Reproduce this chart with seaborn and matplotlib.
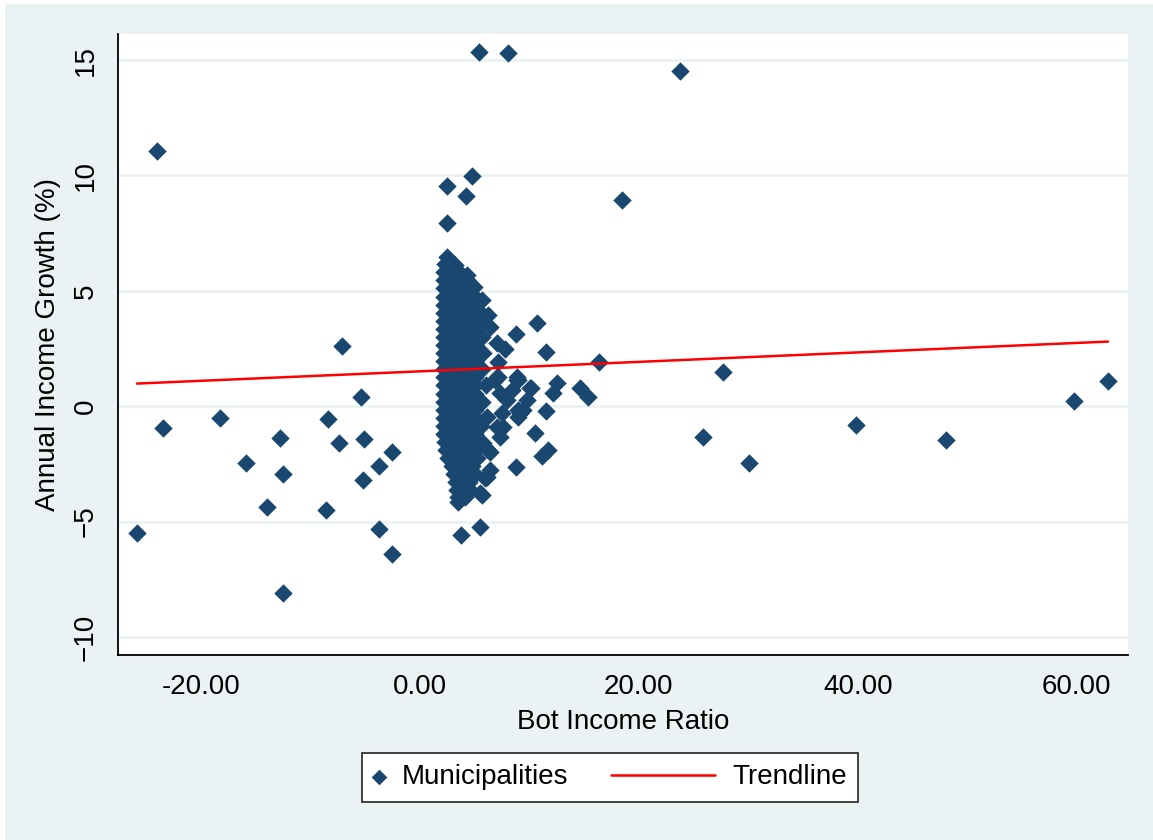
import matplotlib
matplotlib.use("Agg")
import matplotlib.pyplot as plt
import seaborn as sb
from matplotlib.ticker import FormatStrFormatter
from matplotlib.legend_handler import HandlerLine2D
from matplotlib.patches import Rectangle

# scattered municipalities (bot income ratio, annual income growth %)
out_x = [-25.85, -24.0, -23.5, -18.26, -15.9, -13.97, -12.78, -12.5, -12.5,
         -8.58, -8.4, -7.4, -7.14, -5.38, -5.1, -5.2, -3.74, -3.74, -2.55, -2.55,
         5.4, 8.05, 23.76, 18.46, 4.73, 2.45, 4.21, 2.45,
         62.86, 59.76, 48.06, 39.84, 30.07, 27.66, 25.84, 16.36, 15.36, 14.63,
         12.52, 12.16, 11.49, 10.67, 8.78, 10.12, 9.76, 11.49, 10.5, 11.7, 11.13, 8.78,
         7.0, 7.77, 7.1, 6.86, 8.84, 7.3, 7.93, 9.0, 6.1, 7.0, 7.6, 7.3, 5.8, 6.2,
         6.4, 5.95, 5.64, 3.5, 3.8, 5.5, 6.2, 6.4, 5.64, 4.94, 4.28, 3.2, 2.45,
         8.4, 9.4, 8.96, 8.84, 7.0, 7.1, 9.0, 10.06, 9.15, 7.47, 6.4, 6.1, 5.5]
out_y = [-5.49, 11.06, -0.94, -0.5, -2.46, -4.35, -1.38, -2.92, -8.09,
         -4.5, -0.55, -1.58, 2.61, 0.41, -1.42, -3.2, -2.59, -5.32, -1.97, -6.4,
         15.35, 15.3, 14.52, 8.94, 9.97, 9.54, 9.11, 7.92,
         1.09, 0.23, -1.46, -0.81, -2.45, 1.49, -1.32, 1.93, 0.41, 0.79,
         1.0, 0.57, 2.36, 3.6, 3.13, 0.79, 0.27, -0.19, -1.16, -1.9, -2.16, -2.62,
         2.72, 2.48, 1.93, 1.13, 1.13, 0.56, 0.27, -0.16, -0.45, -0.89, -0.89, -1.32, -1.6, -1.9,
         -2.76, -3.1, -3.85, -4.14, -5.58, -5.22, 3.95, 3.44, 4.6, 5.18, 5.69, 6.12, 6.48,
         0.7, -0.16, -0.45, 1.28, 1.28, 1.28, 1.13, 0.78, -0.3, -0.3, -1.97, -3.05, -3.77]

# the dense block of municipalities around ratio 2-5, one row per growth level
block_rows = [
    (6.15, [2.3]),
    (5.8, [2.2, 2.9, 3.6]),
    (5.45, [2.2, 2.9, 3.6, 4.3]),
    (5.1, [2.2, 2.9, 3.6, 4.3]),
    (4.75, [2.2, 2.9, 3.6, 4.3, 5.0]),
    (4.4, [2.2, 2.9, 3.6, 4.3, 5.0]),
    (4.05, [2.2, 2.9, 3.6, 4.3, 5.0, 5.6]),
    (3.7, [2.2, 2.9, 3.6, 4.3, 5.0, 5.6]),
    (3.35, [2.2, 2.9, 3.6, 4.3, 5.0]),
    (3.0, [2.2, 2.9, 3.6, 4.3, 5.0, 5.7]),
    (2.65, [2.2, 2.9, 3.6, 4.3, 5.0]),
    (2.3, [2.2, 2.9, 3.6, 4.3, 5.0, 5.8]),
    (1.95, [2.2, 2.9, 3.6, 4.3, 5.0]),
    (1.6, [2.2, 2.9, 3.6, 4.3, 5.0, 5.7]),
    (1.25, [2.2, 2.9, 3.6, 4.3, 5.0]),
    (0.9, [2.2, 2.9, 3.6, 4.3, 5.0, 6.0]),
    (0.55, [2.2, 2.9, 3.6, 4.3, 5.0]),
    (0.2, [2.2, 2.9, 3.6, 4.3, 5.0, 5.7]),
    (-0.15, [2.2, 2.9, 3.6, 4.3, 5.0]),
    (-0.5, [2.2, 2.9, 3.6, 4.3, 5.0]),
    (-0.85, [2.2, 2.9, 3.6, 4.3, 5.0, 5.6]),
    (-1.2, [2.2, 2.9, 3.6, 4.3, 5.0]),
    (-1.55, [2.3, 2.9, 3.6, 4.3, 4.9]),
    (-1.9, [2.4, 3.0, 3.7, 4.4, 5.1]),
    (-2.25, [2.6, 3.2, 3.9, 4.6, 5.2]),
    (-2.6, [2.9, 3.5, 4.2, 4.8]),
    (-2.95, [3.1, 3.7, 4.4, 5.0]),
    (-3.3, [3.3, 3.9, 4.5]),
    (-3.65, [3.4, 4.0, 4.6]),
    (-3.95, [3.5, 4.1]),
]

trend_x = [-25.85, 62.86]
trend_y = [0.98, 2.80]

xticks = [-20, 0, 20, 40, 60]
yticks = [-10, -5, 0, 5, 10, 15]

bg = '#EAF2F3'
navy = '#1A476F'

blk_x = []
blk_y = []
for yv, xs in block_rows:
    for xv in xs:
        blk_x.append(xv)
        blk_y.append(yv)

all_x = out_x + blk_x
all_y = out_y + blk_y

sb.set_style("white")
plt.rcParams['font.family'] = ['Liberation Sans', 'DejaVu Sans']
plt.rcParams['text.color'] = 'black'
plt.rcParams['axes.labelcolor'] = 'black'

fig = plt.figure(figsize=(11.53, 8.40), dpi=100, facecolor='white')
fig.patches.append(Rectangle((5 / 1153, 0), 1, 836 / 840, transform=fig.transFigure,
                             facecolor=bg, edgecolor='none', zorder=-1))
ax = fig.add_axes([118 / 1153, 1 - 655 / 840, (1127.7 - 118) / 1153, (655 - 33.7) / 840])
ax.set_facecolor('white')

sb.scatterplot(x=all_x, y=all_y, marker='D', color=navy, s=88, linewidth=0, ax=ax, zorder=3)
sb.lineplot(x=trend_x, y=trend_y, color='#FF0000', linewidth=1.8, ax=ax, zorder=4)

ax.set_xlim(-27.58, 64.66)
ax.set_ylim(-10.78, 16.14)
ax.set_xticks(xticks)
ax.set_yticks(yticks)
ax.xaxis.set_major_formatter(FormatStrFormatter('%.2f'))

ax.set_axisbelow(True)
ax.yaxis.grid(True, color=bg, linewidth=2)
ax.xaxis.grid(False)

for s in ['top', 'right']:
    ax.spines[s].set_visible(False)
for s in ['left', 'bottom']:
    ax.spines[s].set_color('black')
    ax.spines[s].set_linewidth(1.3)

ax.tick_params(axis='both', direction='out', length=8, width=1.4, color='#333333',
               labelsize=20, labelcolor='black', pad=6)
ax.tick_params(axis='y', labelrotation=90)
for lbl in ax.get_yticklabels():
    lbl.set_va('center')

ax.set_xlabel('Bot Income Ratio', fontsize=20, labelpad=6, color='black')
ax.set_ylabel('Annual Income Growth (%)', fontsize=20, labelpad=8, color='black')

sc = ax.collections[0]
ln = ax.lines[0]
leg = fig.legend([sc, ln], ['Municipalities', 'Trendline'],
                 loc='center', bbox_to_anchor=(610 / 1153, 1 - 777.5 / 840),
                 ncol=2, fontsize=20, frameon=True, fancybox=False,
                 handlelength=0.43, handletextpad=0.61, columnspacing=4.86,
                 borderpad=0.4, markerscale=0.85,
                 handler_map={ln: HandlerLine2D(xpad=-3.31)})
leg.get_frame().set_edgecolor('#333333')
leg.get_frame().set_linewidth(1.3)
leg.get_frame().set_facecolor('white')
leg.get_frame().set_alpha(1)
for t in leg.get_texts():
    t.set_color('black')

fig.savefig('out.png', dpi=100, facecolor=fig.get_facecolor())
